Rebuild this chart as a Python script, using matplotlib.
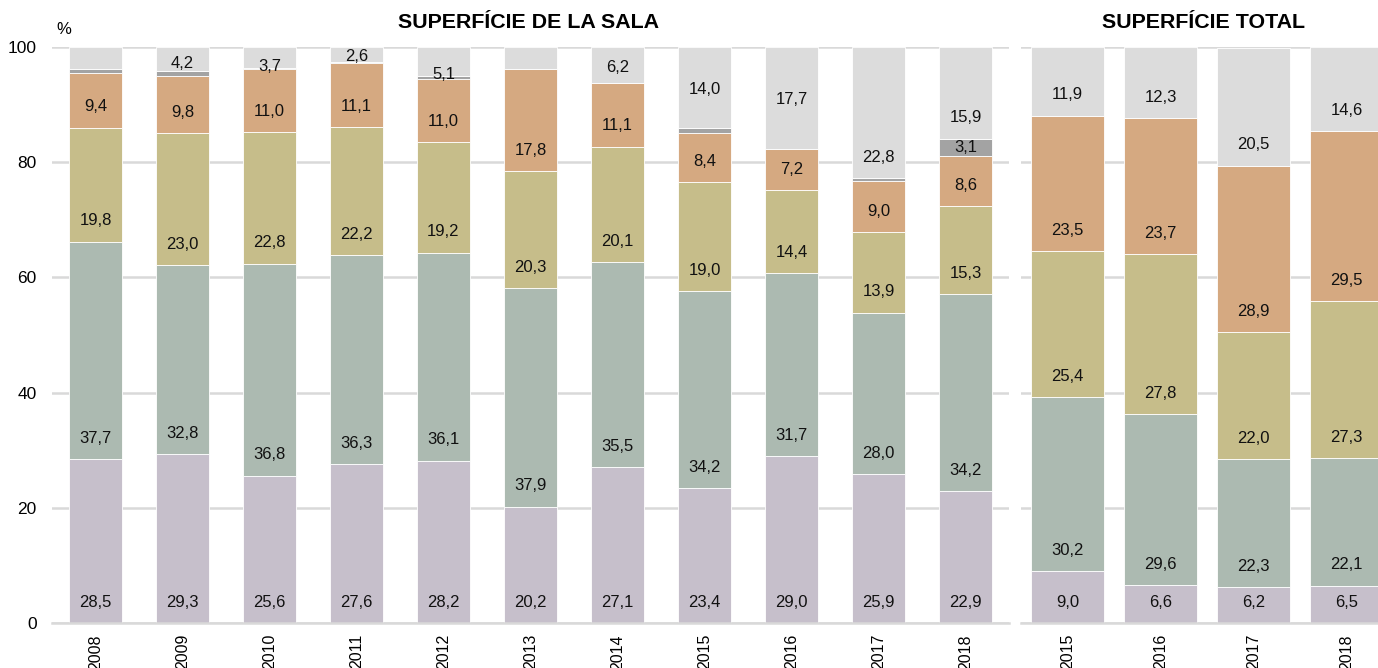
import matplotlib
matplotlib.use("Agg")
import matplotlib.pyplot as plt
import numpy as np

plt.rcParams['font.family'] = ['Liberation Sans', 'DejaVu Sans']

# ---- data ----
sala_years = ['2008', '2009', '2010', '2011', '2012', '2013', '2014', '2015', '2016', '2017', '2018']
sala_s1 = [28.5, 29.3, 25.6, 27.6, 28.2, 20.2, 27.1, 23.4, 29.0, 25.9, 22.9]
sala_s2 = [37.7, 32.8, 36.8, 36.3, 36.1, 37.9, 35.5, 34.2, 31.7, 28.0, 34.2]
sala_s3 = [19.8, 23.0, 22.8, 22.2, 19.2, 20.3, 20.1, 19.0, 14.4, 13.9, 15.3]
sala_s4 = [9.4, 9.8, 11.0, 11.1, 11.0, 17.8, 11.1, 8.4, 7.2, 9.0, 8.6]
sala_s5 = [0.8, 0.9, 0.1, 0.2, 0.4, 0.0, 0.0, 1.0, 0.0, 0.4, 3.1]
sala_s6 = [3.8, 4.2, 3.7, 2.6, 5.1, 3.8, 6.2, 14.0, 17.7, 22.8, 15.9]

total_years = ['2015', '2016', '2017', '2018']
total_s1 = [9.0, 6.6, 6.2, 6.5]
total_s2 = [30.2, 29.6, 22.3, 22.1]
total_s3 = [25.4, 27.8, 22.0, 27.3]
total_s4 = [23.5, 23.7, 28.9, 29.5]
total_s5 = [0.0, 0.0, 0.0, 0.0]
total_s6 = [11.9, 12.3, 20.5, 14.6]

titles = ['SUPERFÍCIE DE LA SALA', 'SUPERFÍCIE TOTAL']
y_ticks = [0, 20, 40, 60, 80, 100]

# ---- style ----
colors = ['#c6bfcb', '#acbab1', '#c6bd8a', '#d5a981', '#a3a3a3', '#dcdcdc']
grid_c = '#d9d9d9'

# label placement tweaks (label anchors for top segment of left panel, in data units)
top_label_y = {1: 97.2, 2: 96.6, 3: 98.3, 4: 95.2, 6: 96.5, 7: 92.7, 8: 90.8}
skip_top = {0, 5}


def fmt(v):
    return f"{v:.1f}".replace('.', ',')


W, H = 1378, 668
fig = plt.figure(figsize=(W / 100, H / 100), dpi=100)
ax1 = fig.add_axes([52 / W, (668 - 623) / H, 957 / W, 576 / H])
ax2 = fig.add_axes([1021 / W, (668 - 623) / H, 357 / W, 576 / H])


def draw(ax, years, series, width, xlim, top_override, skip, show_y):
    x = np.arange(len(years))
    base = np.zeros(len(years))
    for si, (vals, c) in enumerate(zip(series, colors)):
        vals = np.array(vals, dtype=float)
        ax.bar(x, vals, width, bottom=base, color=c, edgecolor='white',
               linewidth=0.6, zorder=2)
        for i, v in enumerate(vals):
            label = False
            y = base[i] + 3.6
            if si == 4:
                if v >= 2:
                    label = True
                    y = base[i] + v / 2
            elif si == 5:
                if i not in skip and v >= 1:
                    label = True
                    if i in top_override:
                        y = top_override[i]
            else:
                if v >= 1:
                    label = True
            if label:
                ax.text(x[i], y, fmt(v), ha='center', va='center',
                        fontsize=12, color='#111111', zorder=3)
        base = base + vals
    ax.set_xlim(*xlim)
    ax.set_ylim(0, 100)
    ax.set_yticks(y_ticks)
    ax.yaxis.grid(True, color=grid_c, linewidth=1.8, zorder=0)
    ax.set_axisbelow(True)
    ax.set_xticks(x)
    ax.set_xticklabels(years, rotation=90, fontsize=11.5)
    ax.tick_params(axis='both', length=0)
    ax.tick_params(axis='x', pad=8)
    ax.tick_params(axis='y', pad=11, labelsize=12.5)
    for s in ['top', 'right', 'left']:
        ax.spines[s].set_visible(False)
    ax.spines['bottom'].set_color(grid_c)
    ax.spines['bottom'].set_linewidth(1.8)
    if not show_y:
        ax.set_yticklabels([])


draw(ax1, sala_years, [sala_s1, sala_s2, sala_s3, sala_s4, sala_s5, sala_s6],
     0.62, (-0.5, 10.5), top_label_y, skip_top, True)
draw(ax2, total_years, [total_s1, total_s2, total_s3, total_s4, total_s5, total_s6],
     0.785, (-0.5, 3.34), {}, set(), False)

fig.text(529 / W, 1 - 23 / H, titles[0], ha='center', va='center',
         fontsize=15.4, fontweight='bold')
fig.text(1203 / W, 1 - 23 / H, titles[1], ha='center', va='center',
         fontsize=15.4, fontweight='bold')
fig.text(64 / W, 1 - 30 / H, '%', ha='center', va='center', fontsize=12)

fig.savefig('out.png', dpi=100)
